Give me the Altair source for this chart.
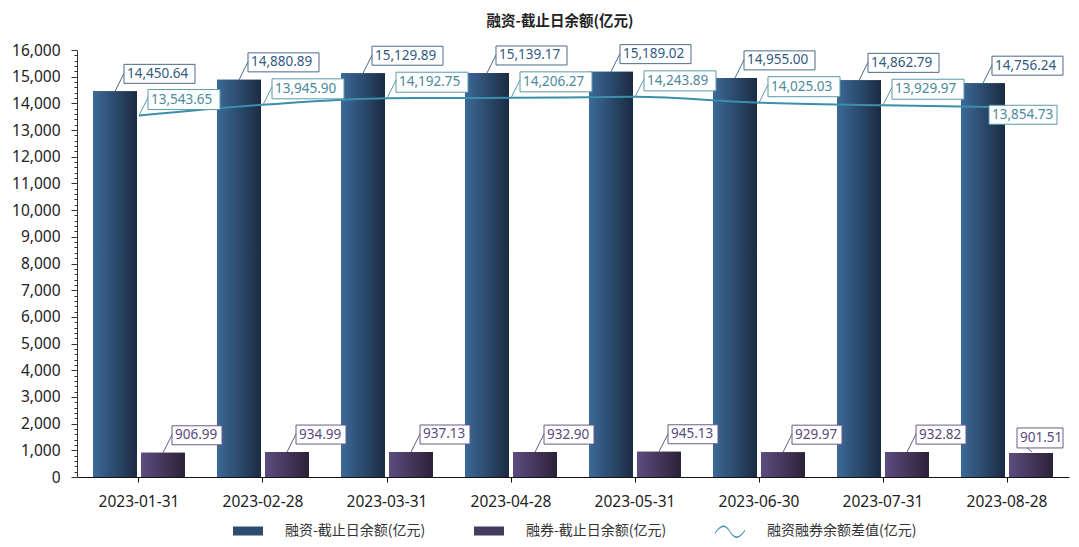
import altair as alt
import pandas as pd

# ---------------- data ----------------
dates = ["2023-01-31", "2023-02-28", "2023-03-31", "2023-04-28",
         "2023-05-31", "2023-06-30", "2023-07-31", "2023-08-28"]
financing = [14450.64, 14880.89, 15129.89, 15139.17, 15189.02, 14955.00, 14862.79, 14756.24]
lending = [906.99, 934.99, 937.13, 932.90, 945.13, 929.97, 932.82, 901.51]
net = [13543.65, 13945.90, 14192.75, 14206.27, 14243.89, 14025.03, 13929.97, 13854.73]

S1 = "融资-截止日余额(亿元)"
S2 = "融券-截止日余额(亿元)"
S3 = "融资融券余额差值(亿元)"
TITLE = "融资-截止日余额(亿元)"

bar_df = pd.DataFrame({
    "date": dates + dates,
    "series": [S1] * len(dates) + [S2] * len(dates),
    "value": financing + lending,
})
line_df = pd.DataFrame({"date": dates, "series": [S3] * len(dates), "value": net})
LAST = dates[-1]

# ---------------- styles ----------------
NUM_FONT = "Noto Sans"
CJK_FONT = "Noto Sans CJK SC"
BLUE_TXT = "#335a82"
LINE_TXT = "#4a8a9c"
PURP_TXT = "#5a4a7c"
LINE_COL = "#3b8fab"

grad_blue = alt.LinearGradient(gradient="linear", x1=0, x2=1, y1=0, y2=0,
                               stops=[alt.GradientStop(color="#3c6a99", offset=0),
                                      alt.GradientStop(color="#1b2b42", offset=1)])
grad_purp = alt.LinearGradient(gradient="linear", x1=0, x2=1, y1=0, y2=0,
                               stops=[alt.GradientStop(color="#5e4c80", offset=0),
                                      alt.GradientStop(color="#2b2238", offset=1)])

X = alt.X("date:N", sort=dates, title=None,
          scale=alt.Scale(paddingInner=0.258, paddingOuter=0.129),
          axis=alt.Axis(labelAngle=0, labelFont=NUM_FONT, labelFontSize=15.5,
                        labelColor="#222", tickSize=5, tickColor="#111",
                        domainColor="#111", labelPadding=12, grid=False))
XO = alt.XOffset("series:N", scale=alt.Scale(domain=[S1, S2], paddingInner=0.0833, paddingOuter=0))
Y = alt.Y("value:Q", title=None,
          scale=alt.Scale(domain=[0, 16000], nice=False, zero=True),
          axis=alt.Axis(values=list(range(0, 16001, 200)),
                        labelExpr="datum.value % 1000 === 0 ? format(datum.value, ',') : ''",
                        tickSize=alt.ExprRef("datum.value % 1000 === 0 ? 6 : 3"),
                        labelFont=NUM_FONT, labelFontSize=15.5, labelColor="#222",
                        labelPadding=11, labelOverlap=False, labelFlush=False,
                        tickColor="#333", domainColor="#333", grid=False))

RECT = "M-1,-0.3H1V0.3H-1Z"
WAVE = ("M-1,0.1C-0.6,-0.5,-0.3,-0.5,0,0C0.3,0.5,0.6,0.5,1,-0.1"
        "L1,0C0.6,0.6,0.3,0.6,0,0.1C-0.3,-0.4,-0.6,-0.4,-1,0.2Z")

legend = alt.Legend(title=None, orient="none", direction="horizontal",
                    legendX=156, legendY=466,
                    symbolType=alt.ExprRef(f"datum.value === '{S3}' ? '{WAVE}' : '{RECT}'"),
                    symbolSize=900, symbolStrokeWidth=0, symbolOpacity=1,
                    labelFont=CJK_FONT, labelFontSize=14, labelColor="#333",
                    labelOffset=22, columnPadding=48)

base = alt.Chart(bar_df)

legend_bars = base.mark_bar().encode(
    x=X, xOffset=XO, y=Y,
    color=alt.Color("series:N", scale=alt.Scale(domain=[S1, S2, S3],
                                                range=["#2c4c70", "#463a60", LINE_COL]),
                    legend=legend))
blue_bars = base.transform_filter(alt.datum.series == S1).mark_bar(fill=grad_blue).encode(
    x=X, xOffset=XO, y=Y)
purp_bars = base.transform_filter(alt.datum.series == S2).mark_bar(fill=grad_purp).encode(
    x=X, xOffset=XO, y=Y)

line = alt.Chart(line_df).mark_line(color=LINE_COL, strokeWidth=2, interpolate="monotone").encode(
    x=X, y=Y)

TXT = alt.Text("value:Q", format=",.2f")


def deco(chart, path, color, use_off=True):
    enc = dict(x=X, y=Y)
    if use_off:
        enc["xOffset"] = XO
    return chart.mark_point(shape=path, size=4, filled=True, fill="white", stroke=color,
                            strokeWidth=1, opacity=1).encode(**enc)


def label(chart, color, dx, dy, use_off=True):
    enc = dict(x=X, y=Y, text=TXT)
    if use_off:
        enc["xOffset"] = XO
    return chart.mark_text(align="left", baseline="middle", dx=dx, dy=dy, font=NUM_FONT,
                           fontSize=13.5, color=color).encode(**enc)


blue_src = base.transform_filter(alt.datum.series == S1)
purp_main = base.transform_filter((alt.datum.series == S2) & (alt.datum.date != LAST))
purp_last = base.transform_filter((alt.datum.series == S2) & (alt.datum.date == LAST))
line_main = alt.Chart(line_df).transform_filter(alt.datum.date != LAST)
line_last = alt.Chart(line_df).transform_filter(alt.datum.date == LAST)

layers = [
    legend_bars, blue_bars, purp_bars, line,
    deco(line_main, "M0,0L9,-18M9,-26H81V-6H9Z", "#5a9aab", use_off=False),
    label(line_main, LINE_TXT, 12, -16, use_off=False),
    deco(line_last, "M-18,-2H50V17H-18Z", "#5a9aab", use_off=False),
    label(line_last, LINE_TXT, -15, 7.5, use_off=False),
    deco(blue_src, "M0,0L9,-18M9,-27H80V-8H9Z", "#4a6a8c"),
    label(blue_src, BLUE_TXT, 12, -17.5),
    deco(purp_main, "M0,0L9,-18M9,-27H59V-8H9Z", "#6a5a88"),
    label(purp_main, PURP_TXT, 12, -17.5),
    deco(purp_last, "M-4,-5L1,-1M-14,-25H32V-5H-14Z", "#6a5a88"),
    label(purp_last, PURP_TXT, -11, -15),
]

chart = alt.layer(*layers).properties(
    width=992, height=427,
    title=alt.TitleParams(text=TITLE, font=CJK_FONT, fontSize=14.5, fontWeight="bold",
                          color="#222", anchor="middle", offset=13, dx=-13),
    autosize=alt.AutoSizeParams(type="none"),
    padding={"left": 69, "top": 42, "right": 2, "bottom": 62},
    background="white",
).configure_view(stroke=None)

chart.save("out.html", embed_options={"renderer": "svg", "actions": False})
